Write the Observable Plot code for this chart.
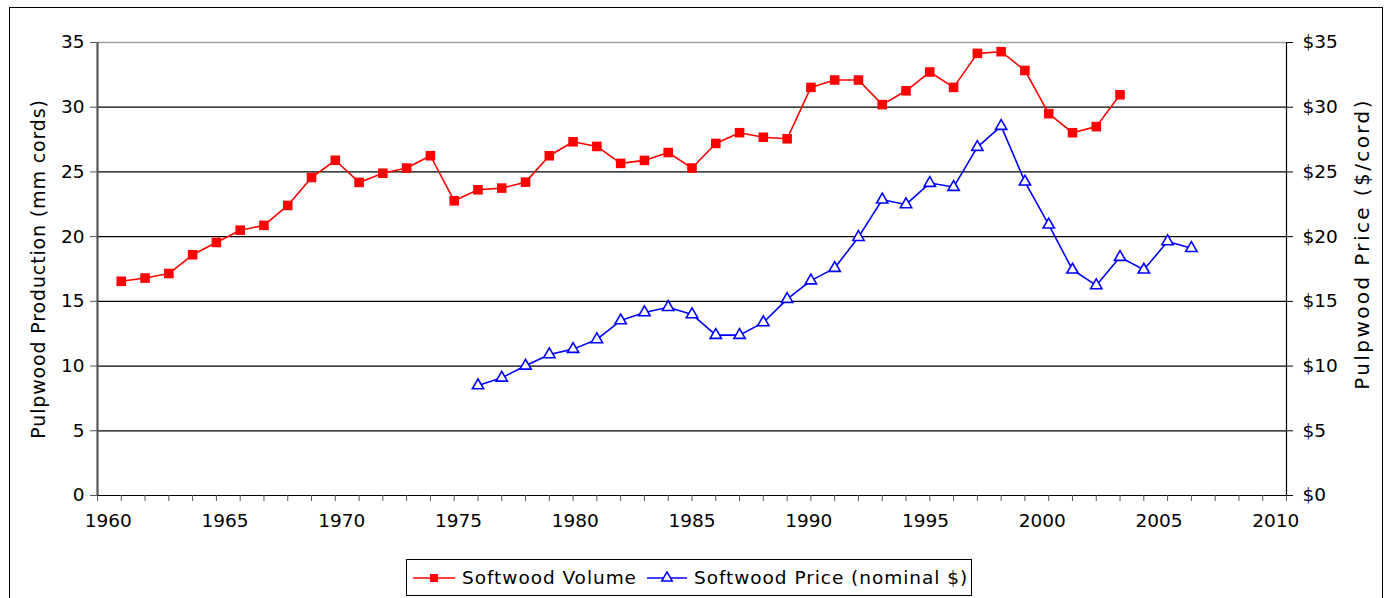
<!DOCTYPE html>
<html><head><meta charset="utf-8">
<script src="https://cdn.jsdelivr.net/npm/d3@7"></script>
<script src="https://cdn.jsdelivr.net/npm/@observablehq/plot@0.6"></script>
<style>
body{margin:0;background:#fff;font-family:"DejaVu Sans",Verdana,sans-serif;}
#wrap{position:relative;width:1390px;height:598px;overflow:hidden;background:#fff;}
#frame{position:absolute;left:9px;top:7px;width:1374px;height:620px;border:1px solid #000;box-sizing:border-box;}
#chart{position:absolute;left:0;top:0;}
#chart svg text{font-family:"DejaVu Sans",Verdana,sans-serif;font-size:18.5px;}
#chart svg text.title{font-size:19px;letter-spacing:0.85px;}
#chart svg text.rtitle{font-size:20px;letter-spacing:2.4px;}
#legend{position:absolute;left:406px;top:559px;width:566px;height:37px;border:1px solid #000;box-sizing:border-box;display:flex;align-items:center;font-size:18.5px;letter-spacing:0.95px;color:#000;white-space:nowrap;}
#legend svg{display:block;}
.item{display:flex;align-items:center;}
</style></head><body>
<div id="wrap"><div id="frame"></div><div id="chart"></div><div id="legend"></div></div>
<script>
// ---- data ----
const volumeYears = [1961,1962,1963,1964,1965,1966,1967,1968,1969,1970,1971,1972,1973,1974,1975,1976,1977,1978,1979,1980,1981,1982,1983,1984,1985,1986,1987,1988,1989,1990,1991,1992,1993,1994,1995,1996,1997,1998,1999,2000,2001,2002,2003];
const volumeValues = [16.55,16.8,17.15,18.6,19.55,20.5,20.87,22.41,24.57,25.9,24.19,24.9,25.3,26.25,22.77,23.62,23.75,24.21,26.25,27.33,26.97,25.66,25.89,26.5,25.3,27.2,28.03,27.68,27.56,31.53,32.1,32.1,30.2,31.27,32.72,31.53,34.16,34.29,32.84,29.5,28.03,28.5,30.96];
const priceYears = [1976,1977,1978,1979,1980,1981,1982,1983,1984,1985,1986,1987,1988,1989,1990,1991,1992,1993,1994,1995,1996,1997,1998,1999,2000,2001,2002,2003,2004,2005,2006];
const priceValues = [8.5,9.09,10.02,10.9,11.31,12.06,13.52,14.14,14.55,13.99,12.39,12.39,13.37,15.17,16.6,17.57,19.96,22.85,22.49,24.14,23.83,26.92,28.54,24.24,20.92,17.44,16.23,18.42,17.44,19.63,19.11];
const yTicks = [0,5,10,15,20,25,30,35];
const xYearTicks = [1960,1961,1962,1963,1964,1965,1966,1967,1968,1969,1970,1971,1972,1973,1974,1975,1976,1977,1978,1979,1980,1981,1982,1983,1984,1985,1986,1987,1988,1989,1990,1991,1992,1993,1994,1995,1996,1997,1998,1999,2000,2001,2002,2003,2004,2005,2006,2007,2008,2009,2010];
const xLabelTicks = [1960,1965,1970,1975,1980,1985,1990,1995,2000,2005,2010];
const seriesNames = ["Softwood Volume","Softwood Price (nominal $)"];
const leftTitle = "Pulpwood Production (mm cords)";
const rightTitle = "Pulpwood Price ($/cord)";

const volume = volumeYears.map((year,i)=>({year, value: volumeValues[i]}));
const price = priceYears.map((year,i)=>({year, value: priceValues[i]}));

// the original spreads its year labels slightly narrower than the tick span
const labelX = d => d + 0.45 - 0.9 * (d - 1960) / 50;

const chart = Plot.plot({
  width: 1390, height: 550,
  marginLeft: 97, marginRight: 104, marginTop: 42, marginBottom: 55,
  x: {domain: [1960, 2010]},
  y: {domain: [0, 35]},
  style: {fontFamily: "'DejaVu Sans', Verdana, sans-serif", fontSize: "18.5px", background: "transparent", color: "#000"},
  marks: [
    Plot.ruleY(yTicks.filter(v => v < 35), {stroke: "#000", strokeWidth: 1.2, strokeOpacity: 1}),
    Plot.ruleY(yTicks.filter(v => v === 35), {stroke: "#a0a0a0", strokeWidth: 1.5, strokeOpacity: 1}),
    Plot.axisY({ticks: yTicks, anchor: "left", tickSize: 7, tickPadding: 6, label: null, tickFormat: d => String(d), stroke: "#555", strokeOpacity: 1}),
    Plot.axisY({ticks: yTicks, anchor: "right", tickSize: 6, tickPadding: 10, label: null, tickFormat: d => "$" + d, strokeOpacity: 1}),
    Plot.axisX({ticks: xYearTicks, anchor: "bottom", tickSize: 6, label: null, tickFormat: () => "", stroke: "#555", strokeOpacity: 1}),
    Plot.text(xLabelTicks, {x: labelX, frameAnchor: "bottom", dy: 31, text: d => String(d), fill: "#000"}),
    Plot.ruleX([1960], {stroke: "#555", strokeWidth: 2.2}),
    Plot.ruleX([2010], {stroke: "#000", strokeWidth: 1.2}),
    Plot.text([leftTitle], {frameAnchor: "left", dx: -59, rotate: -90, textAnchor: "middle", fill: "#000", className: "title"}),
    Plot.text([rightTitle], {frameAnchor: "right", dx: 76, dy: -25, rotate: -90, textAnchor: "middle", fill: "#000", className: "rtitle"}),
    Plot.line(volume, {x: "year", y: "value", stroke: "#ff0000", strokeWidth: 1.6}),
    Plot.dot(volume, {x: "year", y: "value", symbol: "square", fill: "#ff0000", r: 5.4}),
    Plot.line(price, {x: "year", y: "value", stroke: "#0000ff", strokeWidth: 1.6}),
    Plot.dot(price, {x: "year", y: "value", symbol: "triangle", fill: "#fff", stroke: "#0000ff", strokeWidth: 1.6, r: 4.2})
  ]
});
document.getElementById("chart").appendChild(chart);
chart.querySelectorAll("g.title text").forEach(t => t.classList.add("title"));
chart.querySelectorAll("g.rtitle text").forEach(t => t.classList.add("rtitle"));

// legend
const legend = document.getElementById("legend");
function sample(color, kind, w){
  const ns = "http://www.w3.org/2000/svg";
  const s = document.createElementNS(ns, "svg");
  s.setAttribute("width", w); s.setAttribute("height", 16);
  const l = document.createElementNS(ns, "line");
  l.setAttribute("x1", 0); l.setAttribute("x2", w); l.setAttribute("y1", 8); l.setAttribute("y2", 8);
  l.setAttribute("stroke", color); l.setAttribute("stroke-width", 1.6);
  s.appendChild(l);
  const p = document.createElementNS(ns, "path");
  p.setAttribute("transform", `translate(${w/2},8)`);
  if (kind === "square") {
    p.setAttribute("d", d3.symbol(d3.symbolSquare, 64)());
    p.setAttribute("fill", color);
  } else {
    p.setAttribute("d", d3.symbol(d3.symbolTriangle, 48)());
    p.setAttribute("fill", "#fff"); p.setAttribute("stroke", color); p.setAttribute("stroke-width", 1.5);
  }
  s.appendChild(p);
  return s;
}
const items = [[seriesNames[0], "#ff0000", "square", 42, 6], [seriesNames[1], "#0000ff", "triangle", 40, 10]];
items.forEach(([name, color, kind, w, ml]) => {
  const it = document.createElement("div");
  it.className = "item";
  it.style.marginLeft = ml + "px";
  it.appendChild(sample(color, kind, w));
  const t = document.createElement("span");
  t.textContent = name;
  t.style.marginLeft = "7px";
  it.appendChild(t);
  legend.appendChild(it);
});
</script>
</body></html>
